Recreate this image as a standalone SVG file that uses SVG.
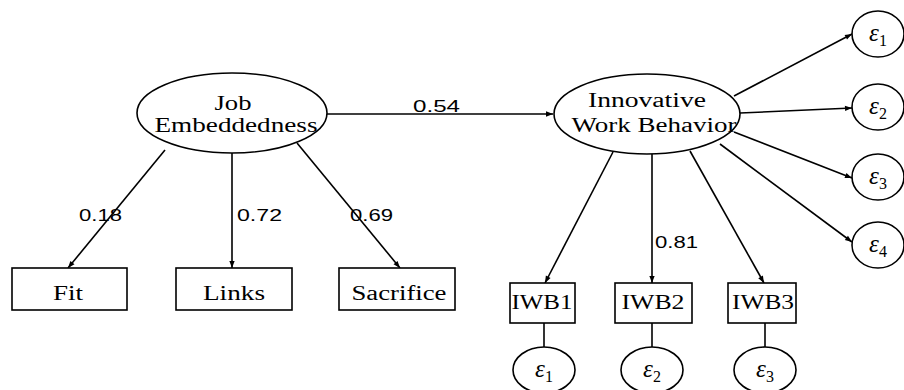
<svg xmlns="http://www.w3.org/2000/svg" width="904" height="390" viewBox="0 0 904 390">
<style>
.s{fill:#fff;stroke:#000;stroke-width:1.6}
.c{stroke:#000;stroke-width:1.6;fill:none}
.t{font-family:"Liberation Serif","Times New Roman",serif;font-size:20px;fill:#000;text-anchor:middle}
.n{font-family:"Liberation Sans",Arial,sans-serif;font-size:17px;fill:#000}
.e{font-family:"Liberation Serif","Times New Roman",serif;font-size:25px;font-style:italic;fill:#000;text-anchor:middle}
.sub{font-size:16px;font-style:normal}
</style>
<defs>
<marker id="a" viewBox="0 0 10 10" refX="10" refY="5" markerWidth="8" markerHeight="7" orient="auto" markerUnits="userSpaceOnUse"><path d="M0,1.2 L10,5 L0,8.8 z" fill="#000"/></marker>
</defs>
<rect width="904" height="390" fill="#fff"/>
<g id="connectors">
<line class="c" x1="326" y1="114" x2="553" y2="114" marker-end="url(#a)"/>
<line class="c" x1="165" y1="150" x2="68" y2="268" marker-end="url(#a)"/>
<line class="c" x1="232" y1="153" x2="232" y2="268" marker-end="url(#a)"/>
<line class="c" x1="297" y1="143" x2="400" y2="268" marker-end="url(#a)"/>
<line class="c" x1="734" y1="96" x2="852" y2="34" marker-end="url(#a)"/>
<line class="c" x1="740" y1="113" x2="852" y2="108" marker-end="url(#a)"/>
<line class="c" x1="734" y1="132" x2="852" y2="178" marker-end="url(#a)"/>
<line class="c" x1="720" y1="144" x2="852" y2="242" marker-end="url(#a)"/>
<line class="c" x1="613" y1="152" x2="545" y2="283" marker-end="url(#a)"/>
<line class="c" x1="652" y1="154" x2="652" y2="283" marker-end="url(#a)"/>
<line class="c" x1="690" y1="151" x2="764" y2="283" marker-end="url(#a)"/>
<line class="c" x1="544" y1="323" x2="544" y2="347"/>
<line class="c" x1="652" y1="323" x2="652" y2="347"/>
<line class="c" x1="765" y1="323" x2="765" y2="347"/>
<text class="n" x="413" y="112" textLength="47" lengthAdjust="spacingAndGlyphs">0.54</text>
<text class="n" x="79" y="221" textLength="43" lengthAdjust="spacingAndGlyphs">0.18</text>
<text class="n" x="237" y="221" textLength="45" lengthAdjust="spacingAndGlyphs">0.72</text>
<text class="n" x="350" y="221" textLength="43" lengthAdjust="spacingAndGlyphs">0.69</text>
<text class="n" x="655" y="248" textLength="43" lengthAdjust="spacingAndGlyphs">0.81</text>
</g>
<g id="job"><ellipse class="s" cx="232" cy="113" rx="95" ry="40"/><text class="t" x="233" y="110" textLength="37" lengthAdjust="spacingAndGlyphs">Job</text><text class="t" x="236" y="132" textLength="163" lengthAdjust="spacingAndGlyphs">Embeddedness</text></g>
<g id="iwb"><ellipse class="s" cx="647" cy="114" rx="93" ry="40"/><text class="t" x="647" y="107" textLength="118" lengthAdjust="spacingAndGlyphs">Innovative</text><text class="t" x="654" y="132" textLength="165" lengthAdjust="spacingAndGlyphs">Work Behavior</text></g>
<g id="fit"><rect class="s" x="12" y="268" width="115" height="42"/><text class="t" x="68" y="300" textLength="30" lengthAdjust="spacingAndGlyphs">Fit</text></g>
<g id="links"><rect class="s" x="176" y="268" width="116" height="42"/><text class="t" x="234" y="300" textLength="62" lengthAdjust="spacingAndGlyphs">Links</text></g>
<g id="sacrifice"><rect class="s" x="339" y="268" width="116" height="42"/><text class="t" x="399" y="300" textLength="95" lengthAdjust="spacingAndGlyphs">Sacrifice</text></g>
<g id="iwb1"><rect class="s" x="510" y="283" width="65" height="40"/><text class="t" x="542" y="309" textLength="61" lengthAdjust="spacingAndGlyphs">IWB1</text></g>
<g id="iwb2"><rect class="s" x="615" y="283" width="77" height="40"/><text class="t" x="653" y="309" textLength="63" lengthAdjust="spacingAndGlyphs">IWB2</text></g>
<g id="iwb3"><rect class="s" x="728" y="283" width="68" height="40"/><text class="t" x="763" y="309" textLength="62" lengthAdjust="spacingAndGlyphs">IWB3</text></g>
<g id="be1"><ellipse class="s" cx="544" cy="370" rx="31" ry="23"/><text class="e" x="544" y="377">ε<tspan class="sub" dy="5">1</tspan></text></g>
<g id="be2"><ellipse class="s" cx="652" cy="370" rx="31" ry="23"/><text class="e" x="652" y="377">ε<tspan class="sub" dy="5">2</tspan></text></g>
<g id="be3"><ellipse class="s" cx="765" cy="370" rx="31" ry="23"/><text class="e" x="765" y="377">ε<tspan class="sub" dy="5">3</tspan></text></g>
<g id="re1"><ellipse class="s" cx="878" cy="34" rx="26" ry="23"/><text class="e" x="878" y="41">ε<tspan class="sub" dy="5">1</tspan></text></g>
<g id="re2"><ellipse class="s" cx="878" cy="107" rx="26" ry="23"/><text class="e" x="878" y="114">ε<tspan class="sub" dy="5">2</tspan></text></g>
<g id="re3"><ellipse class="s" cx="878" cy="177" rx="26" ry="23"/><text class="e" x="878" y="184">ε<tspan class="sub" dy="5">3</tspan></text></g>
<g id="re4"><ellipse class="s" cx="878" cy="245" rx="26" ry="23"/><text class="e" x="878" y="252">ε<tspan class="sub" dy="5">4</tspan></text></g>
</svg>
